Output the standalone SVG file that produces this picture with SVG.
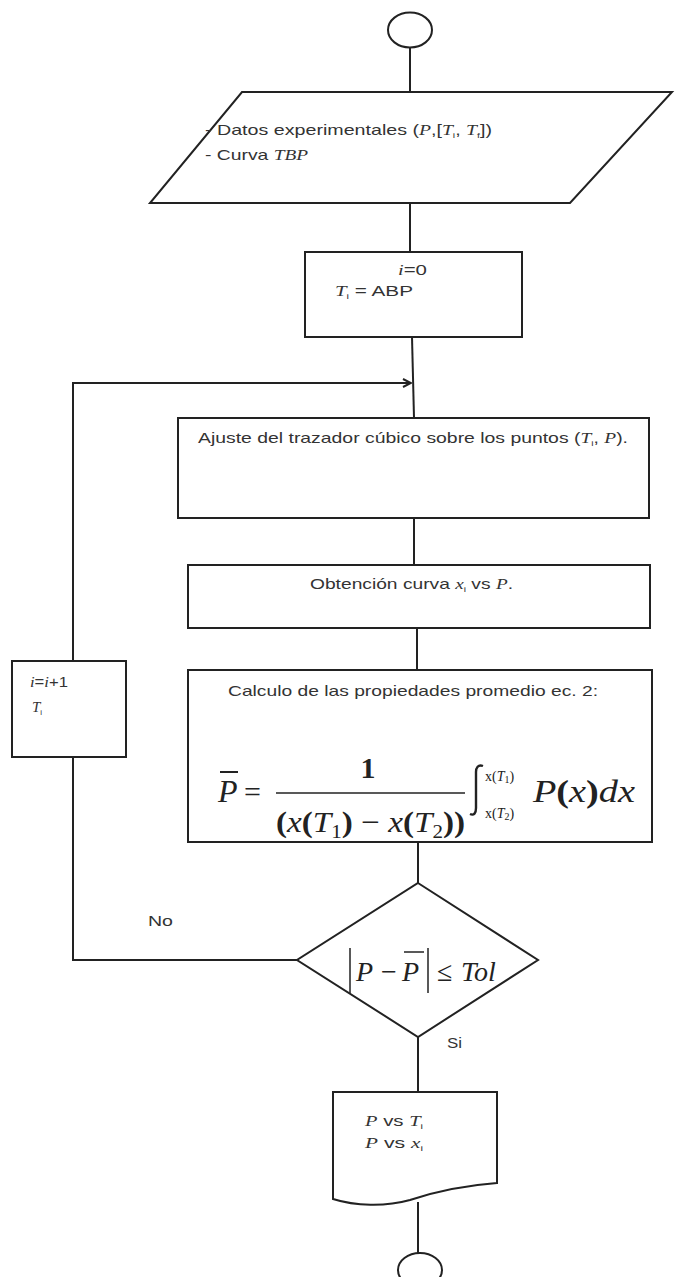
<svg xmlns="http://www.w3.org/2000/svg" width="683" height="1277" viewBox="0 0 683 1277">
<style>
.s{fill:#fff;stroke:#222;stroke-width:2}
.c{fill:none;stroke:#222;stroke-width:2}
.t{font-family:"Liberation Sans",Arial,sans-serif;font-size:15px;fill:#333}
.m{font-family:"Liberation Serif","Times New Roman",serif;font-style:italic}
.f{font-family:"Liberation Serif","Times New Roman",serif;fill:#222}
</style>
<defs>
<marker id="ah" markerWidth="10" markerHeight="10" refX="9" refY="5" orient="auto" markerUnits="userSpaceOnUse">
<path d="M1,1 L9,5 L1,9" fill="none" stroke="#222" stroke-width="2"/>
</marker>
</defs>
<rect width="683" height="1277" fill="#fff"/>
<g id="connectors">
<line class="c" x1="410" y1="47" x2="410" y2="92"/>
<line class="c" x1="410" y1="203" x2="410" y2="252"/>
<line class="c" x1="412" y1="337" x2="414" y2="418"/>
<polyline class="c" points="73,661 73,383 411,383" marker-end="url(#ah)"/>
<line class="c" x1="414" y1="518" x2="414" y2="565"/>
<line class="c" x1="417" y1="628" x2="417" y2="670"/>
<line class="c" x1="418" y1="842" x2="418" y2="883"/>
<polyline class="c" points="297,960 73,960 73,757"/>
<line class="c" x1="418" y1="1037" x2="418" y2="1092"/>
<line class="c" x1="418" y1="1202" x2="418" y2="1253"/>
<text class="t" x="148" y="926" textLength="25" lengthAdjust="spacingAndGlyphs">No</text>
<text class="t" x="447" y="1048" textLength="15" lengthAdjust="spacingAndGlyphs">Si</text>
</g>
<g id="start">
<ellipse class="s" cx="410" cy="30" rx="22" ry="17.5"/>
</g>
<g id="input">
<polygon class="s" points="242,92 672,92 570,203 150,203"/>
<text class="t" x="205" y="135" textLength="287" lengthAdjust="spacingAndGlyphs">- Datos experimentales (<tspan class="m">P</tspan>,[<tspan class="m">T</tspan><tspan font-size="8" dy="3">i</tspan><tspan dy="-3">,  </tspan><tspan class="m">T</tspan><tspan font-size="8" dy="3">f</tspan><tspan dy="-3">])</tspan></text>
<text class="t" x="205" y="160" textLength="103" lengthAdjust="spacingAndGlyphs">- Curva <tspan class="m">TBP</tspan></text>
</g>
<g id="init">
<rect class="s" x="305" y="252" width="217" height="85"/>
<text class="t" x="398" y="275" textLength="29" lengthAdjust="spacingAndGlyphs"><tspan class="m">i</tspan>=0</text>
<text class="t" x="335" y="296" textLength="78" lengthAdjust="spacingAndGlyphs"><tspan class="m">T</tspan><tspan font-size="8" dy="3">i</tspan><tspan dy="-3"> = ABP</tspan></text>
</g>
<g id="spline">
<rect class="s" x="178" y="418" width="471" height="100"/>
<text class="t" x="198" y="443" textLength="430" lengthAdjust="spacingAndGlyphs">Ajuste del trazador cúbico sobre los puntos (<tspan class="m">T</tspan><tspan font-size="8" dy="3">i</tspan><tspan dy="-3">, </tspan><tspan class="m">P</tspan>).</text>
</g>
<g id="curve">
<rect class="s" x="188" y="565" width="462" height="63"/>
<text class="t" x="310" y="589" textLength="203" lengthAdjust="spacingAndGlyphs">Obtención curva <tspan class="m">x</tspan><tspan font-size="8" dy="3">i</tspan><tspan dy="-3"> vs </tspan><tspan class="m">P</tspan>.</text>
</g>
<g id="calc">
<rect class="s" x="188" y="670" width="464" height="172"/>
<text class="t" x="228" y="696" textLength="370" lengthAdjust="spacingAndGlyphs">Calculo de las propiedades promedio ec. 2:</text>
<text class="f" x="218" y="802" font-size="32" font-style="italic">P</text>
<text class="f" x="244" y="802" font-size="30">=</text>
<line x1="220" y1="772" x2="238" y2="772" stroke="#222" stroke-width="2"/>
<text class="f" x="368" y="778" font-size="30" font-weight="bold" text-anchor="middle">1</text>
<line x1="276" y1="793" x2="465" y2="793" stroke="#222" stroke-width="1.5"/>
<text class="f" x="276" y="832" font-size="30" textLength="189" lengthAdjust="spacingAndGlyphs"><tspan font-weight="bold">(</tspan><tspan font-style="italic">x</tspan><tspan font-weight="bold">(</tspan><tspan font-style="italic">T</tspan><tspan font-size="19" dy="6">1</tspan><tspan font-weight="bold" dy="-6">)</tspan> − <tspan font-style="italic">x</tspan><tspan font-weight="bold">(</tspan><tspan font-style="italic">T</tspan><tspan font-size="19" dy="6">2</tspan><tspan font-weight="bold" dy="-6">))</tspan></text>
<path d="M483,766 C478,764 476,768 476,772 L476,808 C476,813 474,816 470,814" fill="none" stroke="#222" stroke-width="2.4"/>
<text class="f" x="485" y="781" font-size="14">x(<tspan font-style="italic">T</tspan><tspan font-size="10" dy="2">1</tspan><tspan dy="-2">)</tspan></text>
<text class="f" x="485" y="818" font-size="14">x(<tspan font-style="italic">T</tspan><tspan font-size="10" dy="2">2</tspan><tspan dy="-2">)</tspan></text>
<text class="f" x="533" y="802" font-size="32" textLength="102" lengthAdjust="spacingAndGlyphs"><tspan font-style="italic">P</tspan><tspan font-weight="bold">(</tspan><tspan font-style="italic">x</tspan><tspan font-weight="bold">)</tspan><tspan font-style="italic">dx</tspan></text>
</g>
<g id="update">
<rect class="s" x="12" y="661" width="114" height="96"/>
<text class="t" x="30" y="687" textLength="38" lengthAdjust="spacingAndGlyphs"><tspan class="m">i</tspan>=<tspan class="m">i</tspan>+1</text>
<text class="t" x="32" y="712"><tspan class="m">T</tspan><tspan font-size="8" dy="3">i</tspan></text>
</g>
<g id="decision">
<polygon class="s" points="418,883 538,960 418,1037 297,960"/>
<line x1="350" y1="948" x2="350" y2="993" stroke="#222" stroke-width="1.5"/>
<line x1="428" y1="948" x2="428" y2="993" stroke="#222" stroke-width="1.5"/>
<line x1="404" y1="952" x2="424" y2="952" stroke="#222" stroke-width="1.5"/>
<text class="f" x="356" y="981" font-size="28" font-style="italic">P</text>
<text class="f" x="381" y="981" font-size="28">−</text>
<text class="f" x="402" y="981" font-size="28" font-style="italic">P</text>
<text class="f" x="437" y="981" font-size="28">≤</text>
<text class="f" x="461" y="981" font-size="28" font-style="italic">Tol</text>
</g>
<g id="output">
<path class="s" d="M333,1092 L497,1092 L497,1183 C470,1185 440,1190 410,1200 C385,1207 355,1206 333,1199 Z"/>
<text class="t" x="365" y="1126" textLength="58" lengthAdjust="spacingAndGlyphs"><tspan class="m">P</tspan> vs <tspan class="m">T</tspan><tspan font-size="8" dy="3">i</tspan></text>
<text class="t" x="365" y="1148" textLength="58" lengthAdjust="spacingAndGlyphs"><tspan class="m">P</tspan> vs <tspan class="m">x</tspan><tspan font-size="8" dy="3">i</tspan></text>
</g>
<g id="end">
<ellipse class="s" cx="420" cy="1270" rx="22" ry="17"/>
</g>
</svg>
